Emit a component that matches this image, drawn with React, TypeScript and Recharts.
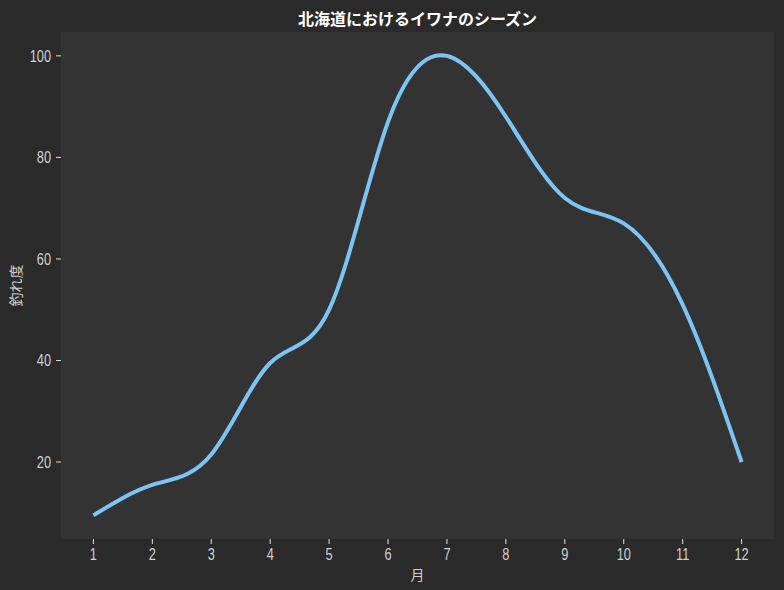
import { CartesianGrid, Line, LineChart, XAxis, YAxis } from "recharts";

const months = [1, 2, 3, 4, 5, 6, 7, 8, 9, 10, 11, 12];
const catchRate = [9.5, 15.5, 21.5, 39.5, 50, 87, 100, 88, 72, 67, 51, 20];
const yTicks = [20, 40, 60, 80, 100];

const title = "北海道におけるイワナのシーズン";
const xLabel = "月";
const yLabel = "釣れ度";

const data = months.map((m, i) => ({ month: m, value: catchRate[i] }));

// narrow tick text, like the condensed face in the original
function NarrowTick(props: any) {
  const { x, y, payload, textAnchor, orientation } = props;
  const dy = orientation === "bottom" ? "0.71em" : "0.355em";
  return (
    <text
      transform={`translate(${x},${y}) scale(0.8,1)`}
      textAnchor={textAnchor}
      dy={dy}
      fill="#d0d0d0"
      fontSize={16}
      fontFamily="'Liberation Sans', sans-serif"
    >
      {payload.value}
    </text>
  );
}

const labelStyle = {
  fill: "#d0d0d0",
  fontSize: 14,
  fontFamily: "'Noto Sans CJK JP', sans-serif",
};

export default function App() {
  return (
    <div
      style={{
        position: "relative",
        width: 784,
        height: 590,
        background: "#2a2a2a",
      }}
    >
      <style>{`body { margin: 0; }`}</style>
      <div
        style={{
          position: "absolute",
          top: 7,
          left: 61,
          width: 713,
          textAlign: "center",
          color: "#ffffff",
          fontWeight: "bold",
          fontSize: 16,
          lineHeight: "22px",
          fontFamily: "'Noto Sans CJK JP', sans-serif",
        }}
      >
        {title}
      </div>
      <LineChart
        width={784}
        height={590}
        data={data}
        margin={{ top: 32, right: 10, bottom: 0, left: 0 }}
      >
        <CartesianGrid
          horizontal={false}
          vertical={false}
          fill="#333333"
          stroke="none"
        />
        <XAxis
          dataKey="month"
          type="number"
          domain={[0.45, 12.55]}
          ticks={months}
          allowDataOverflow
          height={51}
          axisLine={false}
          tickSize={5}
          tickMargin={5}
          tickLine={{ stroke: "#e0e0e0" }}
          tick={<NarrowTick />}
          label={{
            value: xLabel,
            position: "insideBottom",
            offset: 10,
            style: labelStyle,
          }}
        />
        <YAxis
          type="number"
          domain={[4.84, 104.7]}
          ticks={yTicks}
          allowDataOverflow
          width={61}
          axisLine={false}
          tickSize={5}
          tickMargin={5}
          tickLine={{ stroke: "#e0e0e0" }}
          tick={<NarrowTick />}
          label={{
            value: yLabel,
            angle: -90,
            position: "insideLeft",
            offset: 16,
            style: { ...labelStyle, textAnchor: "middle" },
          }}
        />
        <Line
          type="natural"
          dataKey="value"
          stroke="#7cc4f4"
          strokeWidth={4}
          dot={false}
          activeDot={false}
          isAnimationActive={false}
        />
      </LineChart>
    </div>
  );
}
